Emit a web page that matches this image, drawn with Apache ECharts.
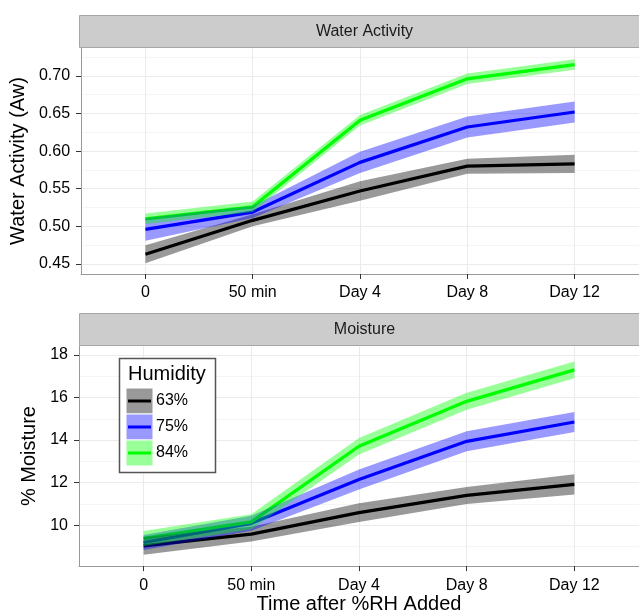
<!DOCTYPE html>
<html><head><meta charset="utf-8">
<script src="https://cdn.jsdelivr.net/npm/echarts@6/dist/echarts.min.js"></script>
<style>html,body{margin:0;padding:0;background:#fff}#c{width:639px;height:615px}</style>
</head><body><div id="c"></div>
<script>
// ---- data ----
const timeLabels = ['0', '50 min', 'Day 4', 'Day 8', 'Day 12'];
const humidity = ['63%', '75%', '84%'];
const lineColors = ['#000000', '#0000ff', '#00ff00'];
const bandColors = ['rgba(0,0,0,0.4)', 'rgba(0,0,255,0.4)', 'rgba(0,255,0,0.4)'];

const awMean63 = [0.463, 0.508, 0.547, 0.580, 0.583];
const awSe63   = [0.012, 0.008, 0.013, 0.010, 0.012];
const awMean75 = [0.496, 0.519, 0.585, 0.632, 0.652];
const awSe75   = [0.015, 0.008, 0.014, 0.014, 0.014];
const awMean84 = [0.510, 0.526, 0.641, 0.696, 0.715];
const awSe84   = [0.007, 0.007, 0.007, 0.007, 0.007];

const mMean63 = [9.03, 9.58, 10.59, 11.40, 11.92];
const mSe63   = [0.42, 0.35, 0.44, 0.40, 0.48];
const mMean75 = [9.19, 10.09, 12.15, 13.94, 14.85];
const mSe75   = [0.35, 0.35, 0.47, 0.47, 0.47];
const mMean84 = [9.38, 10.16, 13.71, 15.82, 17.30];
const mSe84   = [0.35, 0.35, 0.39, 0.40, 0.39];

const awTicks = [0.45, 0.50, 0.55, 0.60, 0.65, 0.70];
const awMinor = [0.475, 0.525, 0.575, 0.625, 0.675, 0.725];
const mTicks = [10, 12, 14, 16, 18];
const mMinor = [9, 11, 13, 15, 17];

// ---- layout ----
const FONT = '"Liberation Sans", Arial, Helvetica, sans-serif';
const G = [
  {left: 79, top: 48, width: 571, height: 226, strip: 'Water Activity'},
  {left: 79, top: 346, width: 571, height: 221, strip: 'Moisture'}
];
const STRIP_H = 33;
const xIdx = timeLabels.map((_, i) => i);

function xAxisCfg(gi) {
  return {
    type: 'value', gridIndex: gi, min: -0.6, max: 4.6,
    axisLine: {show: true, onZero: false, lineStyle: {color: '#999999', width: 1}},
    axisTick: {show: true, customValues: xIdx, length: 5, lineStyle: {color: '#333333', width: 1}},
    axisLabel: {show: true, customValues: xIdx, formatter: v => timeLabels[Math.round(v)],
      fontSize: 16, color: '#000', fontFamily: FONT, margin: 11},
    splitLine: {show: true, lineStyle: {color: '#ebebeb', width: 1}}
  };
}
function yAxisCfg(gi, min, max, ticks, fmt, name, gap) {
  return {
    type: 'value', gridIndex: gi, min: min, max: max, position: 'left',
    name: name, nameLocation: 'middle', nameGap: gap, nameRotate: 90,
    nameTextStyle: {fontSize: 20, color: '#000', fontFamily: FONT},
    axisLine: {show: true, onZero: false, lineStyle: {color: '#999999', width: 1}},
    axisTick: {show: true, customValues: ticks, length: 5, lineStyle: {color: '#333333', width: 1}},
    axisLabel: {show: true, customValues: ticks, formatter: fmt, fontSize: 16, color: '#000', fontFamily: FONT, margin: 11},
    splitLine: {show: true, lineStyle: {color: '#ebebeb', width: 1}}
  };
}
function yMinorCfg(gi, min, max, minor) {
  return {
    type: 'value', gridIndex: gi, min: min, max: max, position: 'left',
    axisLine: {show: false}, axisLabel: {show: false},
    axisTick: {show: false, customValues: minor},
    splitLine: {show: true, lineStyle: {color: '#f5f5f5', width: 1}}
  };
}

const panels = [
  {means: [awMean63, awMean75, awMean84], ses: [awSe63, awSe75, awSe84], xi: 0, yi: 0},
  {means: [mMean63, mMean75, mMean84], ses: [mSe63, mSe75, mSe84], xi: 1, yi: 2}
];

const series = [];
panels.forEach((p, pi) => {
  p.means.forEach((m, k) => {
    series.push({
      type: 'line', name: humidity[k], xAxisIndex: p.xi, yAxisIndex: p.yi,
      data: m.map((v, i) => [i, v]), symbol: 'none', silent: true,
      lineStyle: {color: lineColors[k], width: 3.2}, z: 2
    });
  });
  p.means.forEach((m, k) => {
    const se = p.ses[k];
    series.push({
      type: 'custom', coordinateSystem: 'cartesian2d', xAxisIndex: p.xi, yAxisIndex: p.yi,
      data: [[0, m[0]]], silent: true, clip: true, z: 3,
      renderItem: function (params, api) {
        const up = m.map((v, i) => api.coord([i, v + se[i]]));
        const lo = m.map((v, i) => api.coord([i, v - se[i]])).reverse();
        return {type: 'polygon', shape: {points: up.concat(lo)}, style: {fill: bandColors[k]}};
      }
    });
  });
});

const graphic = [];
G.forEach(g => {
  graphic.push({type: 'rect', z: 50, silent: true,
    shape: {x: g.left + 0.5, y: g.top - STRIP_H + 0.5, width: g.width + 20, height: STRIP_H - 1},
    style: {fill: '#cccccc', stroke: '#a6a6a6', lineWidth: 1}});
  graphic.push({type: 'text', z: 51, silent: true,
    x: g.left + g.width / 2, y: g.top - STRIP_H / 2,
    style: {text: g.strip, fontSize: 16, fontFamily: FONT, fill: '#1a1a1a', textAlign: 'center', textVerticalAlign: 'middle'}});
});
// legend
const LG = {x: 119, y: 358, w: 96, h: 114, keyX: 126, keyY: 388, keyW: 27, keyH: 26};
graphic.push({type: 'rect', z: 60, silent: true,
  shape: {x: LG.x + 0.5, y: LG.y + 0.5, width: LG.w, height: LG.h},
  style: {fill: '#ffffff', stroke: '#555555', lineWidth: 1.5}});
graphic.push({type: 'text', z: 61, silent: true, x: 128, y: 374,
  style: {text: 'Humidity', fontSize: 20, fontFamily: FONT, fill: '#000', textVerticalAlign: 'middle'}});
humidity.forEach((h, k) => {
  const y0 = LG.keyY + k * LG.keyH;
  graphic.push({type: 'rect', z: 61, silent: true,
    shape: {x: LG.keyX, y: y0, width: LG.keyW, height: LG.keyH},
    style: {fill: bandColors[k], stroke: '#ffffff', lineWidth: 1}});
  graphic.push({type: 'line', z: 62, silent: true,
    shape: {x1: LG.keyX + 2, y1: y0 + LG.keyH / 2, x2: LG.keyX + LG.keyW - 2, y2: y0 + LG.keyH / 2},
    style: {stroke: lineColors[k], lineWidth: 3}});
  graphic.push({type: 'text', z: 62, silent: true, x: 156, y: y0 + LG.keyH / 2,
    style: {text: h, fontSize: 16, fontFamily: FONT, fill: '#000', textVerticalAlign: 'middle'}});
});

const xAxes = [xAxisCfg(0), xAxisCfg(1)];
xAxes[1].name = 'Time after %RH Added';
xAxes[1].nameLocation = 'middle';
xAxes[1].nameGap = 27;
xAxes[1].nameTextStyle = {fontSize: 20, color: '#000', fontFamily: FONT};

const option = {
  animation: false,
  backgroundColor: '#ffffff',
  grid: G.map(g => ({left: g.left, top: g.top, width: g.width, height: g.height})),
  xAxis: xAxes,
  yAxis: [
    yAxisCfg(0, 0.4367, 0.737, awTicks, v => v.toFixed(2), 'Water Activity (Aw)', 47),
    yMinorCfg(0, 0.4367, 0.737, awMinor),
    yAxisCfg(1, 8.08, 18.42, mTicks, v => String(Math.round(v)), '% Moisture', 33),
    yMinorCfg(1, 8.08, 18.42, mMinor)
  ],
  series: series,
  graphic: graphic
};
const chart = echarts.init(document.getElementById('c'), null, {renderer: 'canvas'});
chart.setOption(option);
</script>
</body></html>
